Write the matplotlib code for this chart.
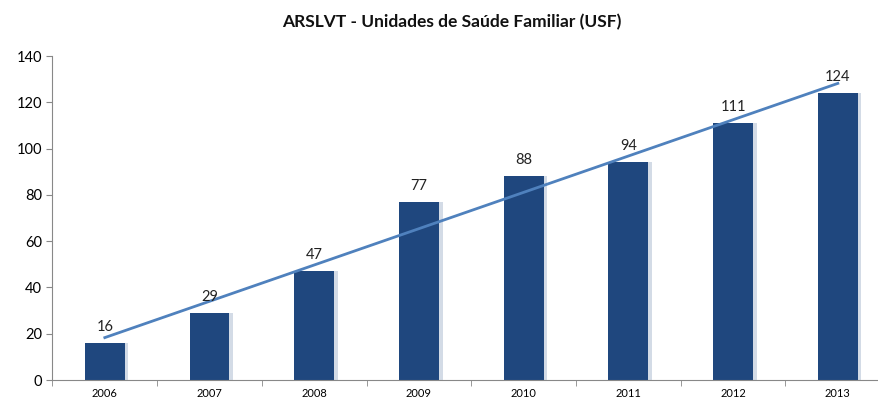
import numpy as np
import matplotlib
matplotlib.use("Agg")
import matplotlib.pyplot as plt

# ─── Data ──────────────────────────────────────────────────────────────────────

years = ["2006", "2007", "2008", "2009", "2010", "2011", "2012", "2013"]
usf_count = [16, 29, 47, 77, 88, 94, 111, 124]

TITLE = "ARSLVT - Unidades de Saúde Familiar (USF)"
BAR_COLOR = "#1F477E"
LINE_COLOR = "#4F81BD"

plt.rcParams["font.family"] = ["Lato", "DejaVu Sans"]

fig = plt.figure(figsize=(8.79, 4.03), dpi=100)
ax = fig.add_axes([0.0597, 0.057, 0.953, 0.804])

x = np.arange(len(years))

# soft shadow behind each bar
ax.bar(x + 0.035, usf_count, width=0.38, color="#d3dbe6", zorder=1)
bars = ax.bar(x, usf_count, width=0.38, color=BAR_COLOR, zorder=2)

# linear trend line
slope, intercept = np.polyfit(x, usf_count, 1)
ax.plot(x, slope * x + intercept, color=LINE_COLOR, linewidth=2, zorder=3)

for xi, val in zip(x, usf_count):
    ax.text(xi, val + 4, str(val), ha="center", va="bottom",
            fontsize=10.5, color="#222222", zorder=4)

ax.set_xlim(-0.5, len(years) - 0.5)
ax.set_ylim(0, 140)
ax.set_yticks(range(0, 141, 20))
ax.set_xticks(x)
ax.set_xticklabels(years, fontsize=8)
ax.set_xticks(np.arange(-0.5, len(years), 1), minor=True)
ax.tick_params(axis="x", which="major", length=0, pad=6)
ax.tick_params(axis="x", which="minor", length=4, color="#888888")
ax.tick_params(axis="y", labelsize=10.5, length=4, color="#888888")

ax.spines[["top", "right"]].set_visible(False)
ax.spines["left"].set_color("#888888")
ax.spines["bottom"].set_color("#888888")

fig.text(0.514, 0.945, TITLE, ha="center", va="center",
         fontsize=12.5, fontweight="bold", color="#111111")

fig.savefig("out.png", dpi=100)
